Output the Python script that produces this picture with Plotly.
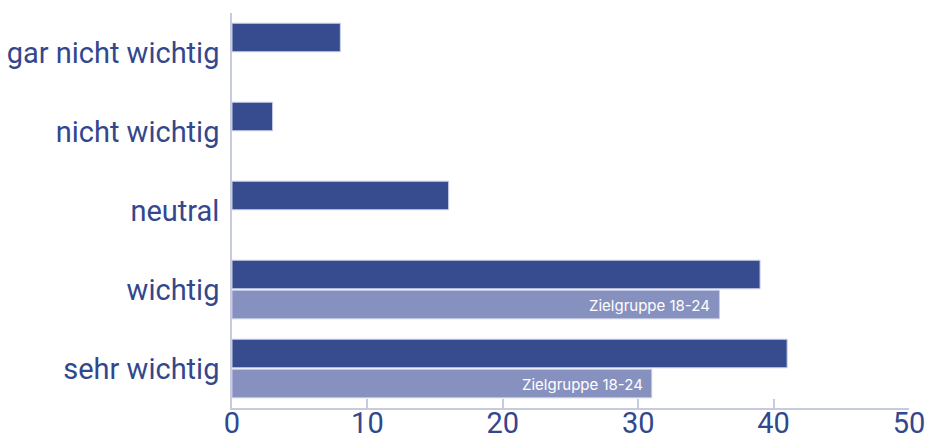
import plotly.graph_objects as go

# Survey answers, top to bottom
categories = ["gar nicht wichtig", "nicht wichtig", "neutral", "wichtig", "sehr wichtig"]
overall = [8, 3, 16, 39, 41]
target_group = [None, None, None, 36, 31]
target_label = "Zielgruppe 18-24"
x_ticks = [0, 10, 20, 30, 40, 50]

dark_blue = "#374b8f"
light_blue = "#8791bf"
text_blue = "#33478e"
axis_grey = "#c6cbe0"
font_family = "Roboto, Inter, sans-serif"

fig = go.Figure()
fig.add_trace(go.Bar(
    y=categories, x=overall, orientation="h", name="Gesamt",
    marker=dict(color=dark_blue, line=dict(color="#c9cee6", width=1)),
    hoverinfo="x+y",
))
fig.add_trace(go.Bar(
    y=categories, x=target_group, orientation="h", name=target_label,
    marker=dict(color=light_blue, line=dict(color="#c9cee6", width=1)),
    hoverinfo="x+y",
))

# Labels inside the target-group bars, right-aligned at the bar end
for cat, val in zip(categories, target_group):
    if val is None:
        continue
    fig.add_annotation(
        x=val, y=cat, xref="x", yref="y", yshift=-15.5,
        text=target_label, showarrow=False, xanchor="right", xshift=-7,
        font=dict(family="Inter, Roboto, sans-serif", size=15, color="white"),
    )

fig.update_layout(
    width=929, height=441,
    margin=dict(l=232, r=20, t=13, b=33, autoexpand=False),
    barmode="group", bargap=0.24, bargroupgap=0.05,
    plot_bgcolor="white", paper_bgcolor="white",
    showlegend=False,
    font=dict(family=font_family, color=text_blue),
)
fig.update_xaxes(
    range=[0, 50], tickvals=x_ticks, showgrid=False, zeroline=False,
    showline=True, linecolor=axis_grey, linewidth=1.5,
    ticks="inside", ticklen=9, tickcolor=axis_grey, tickwidth=1.5,
    ticklabelstandoff=-12,
    tickfont=dict(size=29, color=text_blue, family=font_family),
    automargin=False,
)
fig.update_yaxes(
    categoryorder="array", categoryarray=categories,
    range=[4.5, -0.5], showgrid=False, zeroline=False,
    showline=True, linecolor=axis_grey, linewidth=1.5,
    ticks="", ticklabelstandoff=5,
    tickfont=dict(size=29, color=text_blue, family=font_family),
    automargin=False,
)

fig.write_html("out.html")
